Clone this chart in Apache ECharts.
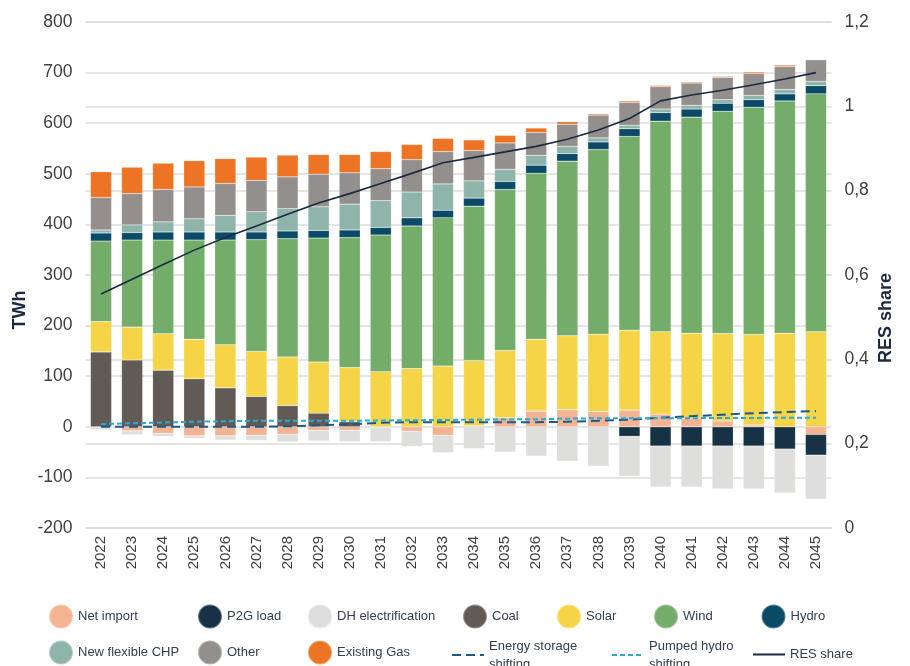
<!DOCTYPE html>
<html>
<head>
<meta charset="utf-8">
<script src="https://cdn.jsdelivr.net/npm/echarts@6/dist/echarts.min.js"></script>
<style>
html,body{margin:0;padding:0;background:#fff;}
#chart{width:910px;height:666px;}
</style>
</head>
<body>
<div id="chart"></div>
<script>
var years = ['2022','2023','2024','2025','2026','2027','2028','2029','2030','2031','2032','2033','2034','2035','2036','2037','2038','2039','2040','2041','2042','2043','2044','2045'];
var leftTicks = [-200,-100,0,100,200,300,400,500,600,700,800];
var rightTicks = [0,0.2,0.4,0.6,0.8,1,1.2];

var netImport = [-1,-8,-13,-18,-18,-17,-15,-7,-7,-1,-9,-17,2,18,31,34,30,33,25,17,11.5,3.5,0,-15];
var p2gLoad = [0,0,0,0,0,0,0,0,0,0,0,0,0,0,0,0,0,-19,-38,-38,-38,-38,-44,-41];
var dhElectrification = [-5,-8,-6,-5,-8,-10,-15,-21,-22,-28,-30,-34,-43,-50,-58,-68,-78,-79,-81,-81,-85,-85,-87,-87];
var coal = [148,132,112,95,77,60,42,27,10,0,0,0,0,0,0,0,0,0,0,0,0,0,0,0];
var solar = [60,65,72,78,85,89,96,101,107,109,115,120,129,133,142,146,153,158,163,168,173,179,185,188];
var wind = [159,172,185,196,207,221,234,245,257,270,282,293,305,318,328,345,365,383,416,427,439,449,459,470];
var hydro = [16,15,16,16,16,15,15,15,15,15,16,15,16,16,16,15,15,15,17,16,16,15,14,16];
var newFlexCHP = [6,15,20,26,33,40,44,47,51,53,51,52,34,24,19.5,14,8,7,7,7.5,7,8.5,9,8.5];
var other = [64,62,64,63,63,62,63,64,62,63,64,64,60,52,45,44,45,45,44,44,44,43,45,43];
var existingGas = [51,52,52,52,49,46,43,39,36,34,30,26,21,15,9,5,2.5,3,2.5,2,2,3,3,0];
var energyStorage = [0,0,0,0,0,0,1,3,5,8,9,9,9,9,9,10,12,14,18,21,24,27,29,31];
var pumpedHydro = [5.5,7,8.5,10,11,12,12,12,12,12.5,13,13.5,14,14.5,15,16,17,17,17,17,17.5,17.5,18,18];
var resShare = [0.555,0.590,0.625,0.659,0.689,0.716,0.744,0.771,0.793,0.817,0.841,0.866,0.879,0.892,0.905,0.922,0.944,0.971,1.013,1.027,1.038,1.051,1.065,1.080];

var FONT = "'Liberation Sans', Arial, Helvetica, sans-serif";
var chart = echarts.init(document.getElementById('chart'), null, {renderer:'canvas'});

var barDefs = [
  ['Net import', netImport, '#F4B393'],
  ['P2G load', p2gLoad, '#163244'],
  ['DH electrification', dhElectrification, '#DEDEDC'],
  ['Coal', coal, '#625B55'],
  ['Solar', solar, '#F5D547'],
  ['Wind', wind, '#74AC69'],
  ['Hydro', hydro, '#0B4A66'],
  ['New flexible CHP', newFlexCHP, '#8FB4AA'],
  ['Other', other, '#938F8C'],
  ['Existing Gas', existingGas, '#EC7424']
];
var series = barDefs.map(function(d){
  return {
    name: d[0], type: 'bar', stack: 'total', data: d[1], barWidth: '68%',
    itemStyle: {color: d[2], borderColor: 'rgba(255,255,255,0.35)', borderWidth: 0.5},
    emphasis: {disabled: true}, z: 2
  };
});
series.push({
  name: 'Energy storage shifting', type: 'line', data: energyStorage, yAxisIndex: 0,
  symbol: 'none', itemStyle: {color: '#1B5A87'},
  lineStyle: {color: '#1B5A87', width: 2, type: [9,5]}, z: 5
});
series.push({
  name: 'Pumped hydro shifting', type: 'line', data: pumpedHydro, yAxisIndex: 0,
  symbol: 'none', itemStyle: {color: '#2AA9D6'},
  lineStyle: {color: '#2AA9D6', width: 2, type: [5,3]}, z: 5
});
series.push({
  name: 'RES share', type: 'line', data: resShare, yAxisIndex: 1,
  symbol: 'none', itemStyle: {color: '#1B2A41'},
  lineStyle: {color: '#1B2A41', width: 1.6}, z: 6
});

var legendText = {fontFamily: FONT, fontSize: 13, color: '#34404F'};
function circleLegend(name, cx, cy) {
  return {
    data: [name], left: cx - 12, top: cy - 12, padding: 0, icon: 'circle',
    itemWidth: 24, itemHeight: 24, selectedMode: false, textStyle: legendText
  };
}
function lineLegend(name, x0, top, label) {
  return {
    data: [name], left: x0, top: top, padding: 0,
    itemWidth: 32, itemHeight: 14, selectedMode: false,
    itemStyle: {opacity: 0, borderWidth: 0},
    formatter: function(){ return label; },
    textStyle: {fontFamily: FONT, fontSize: 13, color: '#34404F', lineHeight: 18}
  };
}
var legends = [
  circleLegend('Net import', 60, 615.5),
  circleLegend('P2G load', 209, 615.5),
  circleLegend('DH electrification', 319, 615.5),
  circleLegend('Coal', 474, 615.5),
  circleLegend('Solar', 568, 615.5),
  circleLegend('Wind', 665, 615.5),
  circleLegend('Hydro', 772.5, 615.5),
  circleLegend('New flexible CHP', 60, 651.5),
  circleLegend('Other', 209, 651.5),
  circleLegend('Existing Gas', 319, 651.5),
  lineLegend('Energy storage shifting', 451, 637, 'Energy storage\nshifting'),
  lineLegend('Pumped hydro shifting', 611, 637, 'Pumped hydro\nshifting'),
  lineLegend('RES share', 752, 645.5, 'RES share')
];

var option = {
  backgroundColor: '#ffffff',
  animation: false,
  grid: {left: 85.5, right: 78.5, top: 22, bottom: 138, containLabel: false},
  legend: legends,
  xAxis: {
    type: 'category', data: years,
    axisLine: {show: false}, axisTick: {show: false},
    axisLabel: {rotate: 90, fontFamily: FONT, fontSize: 15, color: '#404040', margin: 8}
  },
  yAxis: [
    {
      type: 'value', min: leftTicks[0], max: leftTicks[leftTicks.length-1], interval: 100,
      axisLine: {show: false}, axisTick: {show: false},
      axisLabel: {fontFamily: FONT, fontSize: 17.5, color: '#404040', margin: 13},
      splitLine: {show: true, lineStyle: {color: '#DCDCDC', width: 1.5}}
    },
    {
      type: 'value', min: rightTicks[0], max: rightTicks[rightTicks.length-1], interval: 0.2,
      position: 'right',
      axisLine: {show: false}, axisTick: {show: false},
      axisLabel: {fontFamily: FONT, fontSize: 17.5, color: '#404040', margin: 13,
        formatter: function(v){ return String(+v.toFixed(1)).replace('.', ','); }},
      splitLine: {show: true, lineStyle: {color: '#DCDCDC', width: 1.5}}
    }
  ],
  graphic: [
    {type: 'text', x: 20, y: 310, rotation: Math.PI/2,
      style: {text: 'TWh', font: 'bold 18px ' + FONT, fill: '#1B2A41', align: 'center', verticalAlign: 'middle'}},
    {type: 'text', x: 886, y: 318, rotation: Math.PI/2,
      style: {text: 'RES share', font: 'bold 18px ' + FONT, fill: '#1B2A41', align: 'center', verticalAlign: 'middle'}}
  ],
  series: series
};
chart.setOption(option);
</script>
</body>
</html>
